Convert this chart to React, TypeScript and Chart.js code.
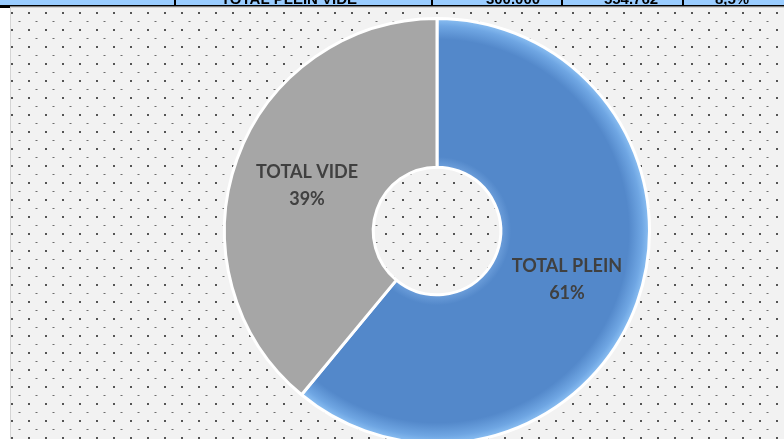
import { useEffect, useRef } from "react";
import { Chart, registerables } from "chart.js";

Chart.register(...registerables);

const categories = ["TOTAL PLEIN", "TOTAL VIDE"];
const shares = [61, 39];
const sliceColors = ["#5388ca", "#a6a6a6"];
const tableCells = ["TOTAL PLEIN VIDE", "300.000", "554.762", "8,5%"];

const W = 784;
const H = 460;
const BORDER = 3;
const CUTOUT = 0.3;

const total = shares.reduce((a, b) => a + b, 0);
const percentLabels = shares.map((v) => Math.round((v / total) * 100) + "%");

const backgroundPlugin = {
  id: "sheetBackground",
  beforeDraw(chart: any) {
    const c = chart.ctx as CanvasRenderingContext2D;
    c.save();
    c.fillStyle = "#ffffff";
    c.fillRect(0, 0, W, H);
    // chart panel
    c.fillStyle = "#f2f2f2";
    c.fillRect(10, 7, W - 10, H - 7);
    c.fillStyle = "#d4d4d4";
    c.fillRect(10, 7, 1, H - 7);
    c.fillRect(10, 7, W - 10, 1);
    // dotted pattern
    for (let y = 13; y < H; y += 17) {
      c.fillStyle = "#555555";
      for (let x = 12; x < W; x += 17) c.fillRect(x - 1, y - 1, 2, 2);
      c.fillStyle = "#6e6e6e";
      for (let x = 19.5; x < W; x += 17) c.fillRect(x - 1, y + 8, 2, 1);
    }
    // cut-off table row on top
    c.fillStyle = "#99ccff";
    c.fillRect(0, 0, W, 5);
    c.save();
    c.beginPath();
    c.rect(0, 0, W, 5);
    c.clip();
    c.fillStyle = "#000000";
    c.font = "bold 15px 'Liberation Sans', Arial, sans-serif";
    c.textAlign = "center";
    c.textBaseline = "alphabetic";
    const centers = [289, 513, 631, 732];
    tableCells.forEach((t, i) => c.fillText(t, centers[i], 3.5));
    c.restore();
    c.fillStyle = "#000000";
    c.fillRect(0, 5, W, 1.5);
    c.fillRect(0, 5, 10, 3);
    [174, 431, 561, 682].forEach((x) => c.fillRect(x, 0, 2, 6));
    c.restore();
  },
};

const labelPlugin = {
  id: "sliceLabels",
  afterDatasetsDraw(chart: any) {
    const c = chart.ctx as CanvasRenderingContext2D;
    const meta = chart.getDatasetMeta(0);
    c.save();
    c.fillStyle = "#404040";
    c.font = "bold 18px Lato, 'Open Sans', sans-serif";
    c.textAlign = "center";
    c.textBaseline = "middle";
    meta.data.forEach((arc: any, i: number) => {
      const p = arc.tooltipPosition(false);
      c.fillText(categories[i], p.x, p.y - 12);
      c.fillText(percentLabels[i], p.x, p.y + 15);
    });
    c.restore();
  },
};

function sliceFill(ctx: any) {
  const i = ctx.dataIndex;
  const base = sliceColors[i];
  const chart = ctx.chart;
  const area = chart.chartArea;
  if (!area || i !== 0) return base;
  const cx = (area.left + area.right) / 2;
  const cy = (area.top + area.bottom) / 2;
  const outer = (Math.min(area.right - area.left, area.bottom - area.top) - BORDER) / 2;
  const inner = outer * CUTOUT;
  const g = chart.ctx.createRadialGradient(cx, cy, inner, cx, cy, outer);
  g.addColorStop(0, "#6d9fdb");
  g.addColorStop(0.07, "#5388ca");
  g.addColorStop(0.86, "#5388ca");
  g.addColorStop(0.95, "#6fa6e3");
  g.addColorStop(1, "#8cc0f3");
  return g;
}

export default function App() {
  const ref = useRef<HTMLCanvasElement | null>(null);

  useEffect(() => {
    if (!ref.current) return;
    const chart = new Chart(ref.current, {
      type: "doughnut",
      data: {
        labels: categories,
        datasets: [
          {
            data: shares,
            backgroundColor: sliceFill as any,
            borderColor: "#ffffff",
            borderWidth: BORDER,
          },
        ],
      },
      options: {
        responsive: false,
        animation: false,
        cutout: CUTOUT * 100 + "%",
        layout: { padding: { left: 223, right: 133, top: 17, bottom: 15 } },
        plugins: {
          legend: { display: false },
          tooltip: { enabled: false },
        },
      },
      plugins: [backgroundPlugin, labelPlugin],
    });
    return () => chart.destroy();
  }, []);

  return (
    <div
      style={{
        position: "fixed",
        left: 0,
        top: 0,
        width: W,
        height: 439,
        overflow: "hidden",
        background: "#ffffff",
      }}
    >
      <canvas ref={ref} width={W} height={H} style={{ display: "block", width: W, height: H }} />
    </div>
  );
}
